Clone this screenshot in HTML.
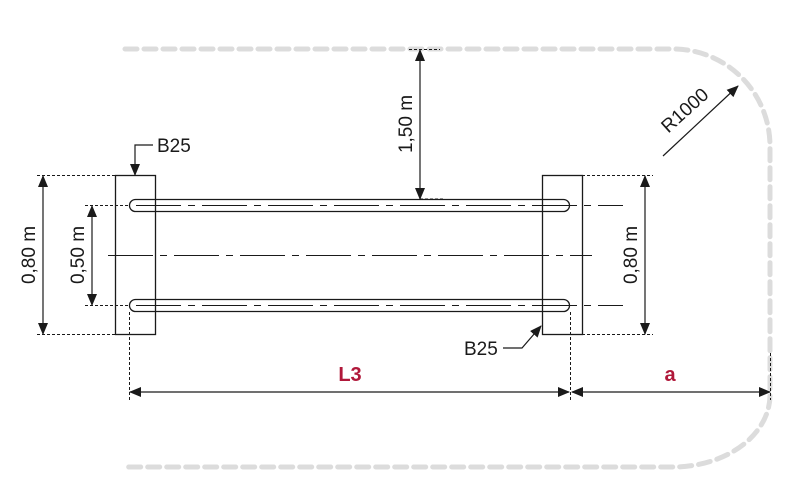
<!DOCTYPE html>
<html><head><meta charset="utf-8"><style>
html,body{margin:0;padding:0;background:#fff}
svg{display:block}
text{font-family:"Liberation Sans",sans-serif}
</style></head><body>
<svg width="800" height="502" viewBox="0 0 800 502" xmlns="http://www.w3.org/2000/svg">
<defs>
<marker id="ar" markerWidth="12" markerHeight="10" refX="11" refY="5" orient="auto-start-reverse" markerUnits="userSpaceOnUse">
<path d="M0,0 L12,5 L0,10 z" fill="#1a1a1a"/></marker>
</defs>
<path d="M125,49 H673 A97,97 0 0 1 770,146 V395 A97,72 0 0 1 673,467 H125" fill="none" stroke="#dcdcdc" stroke-width="5" stroke-dasharray="12,7" stroke-linecap="round"/>
<g stroke="#1a1a1a" fill="none" stroke-width="1.3">
<rect x="115.5" y="175.5" width="40" height="159"/>
<rect x="542.5" y="175.5" width="40" height="159"/>
<rect x="129.5" y="199.5" width="440" height="12" rx="6"/>
<rect x="129.5" y="299.5" width="440" height="12" rx="6"/>
</g>
<g stroke="#1a1a1a" stroke-width="1" fill="none" stroke-dasharray="45,7,7,7">
<line x1="136" y1="205.5" x2="623" y2="205.5"/>
<line x1="136" y1="305.5" x2="623" y2="305.5"/>
<line x1="108" y1="255.5" x2="592" y2="255.5"/>
</g>
<g stroke="#1a1a1a" stroke-width="1" fill="none" stroke-dasharray="3,2">
<line x1="37" y1="175.5" x2="115" y2="175.5"/>
<line x1="37" y1="334.5" x2="115" y2="334.5"/>
<line x1="85" y1="205.5" x2="129" y2="205.5"/>
<line x1="85" y1="305.5" x2="129" y2="305.5"/>
<line x1="582" y1="175.5" x2="653" y2="175.5"/>
<line x1="582" y1="334.5" x2="653" y2="334.5"/>
<line x1="409" y1="49.5" x2="440" y2="49.5"/>
<line x1="420" y1="199" x2="445" y2="199"/>
<line x1="129.5" y1="312" x2="129.5" y2="400"/>
<line x1="570.5" y1="312" x2="570.5" y2="400"/>
<line x1="770.5" y1="353" x2="770.5" y2="400"/>
</g>
<g stroke="#1a1a1a" stroke-width="1.2" fill="none">
<line x1="43" y1="176" x2="43" y2="334" marker-start="url(#ar)" marker-end="url(#ar)"/>
<line x1="92" y1="206" x2="92" y2="305" marker-start="url(#ar)" marker-end="url(#ar)"/>
<line x1="645" y1="176" x2="645" y2="334" marker-start="url(#ar)" marker-end="url(#ar)"/>
<line x1="420" y1="50" x2="420" y2="199" marker-start="url(#ar)" marker-end="url(#ar)"/>
<line x1="130" y1="392" x2="569" y2="392" marker-start="url(#ar)" marker-end="url(#ar)"/>
<line x1="572" y1="392" x2="770" y2="392" marker-start="url(#ar)" marker-end="url(#ar)"/>
<line x1="663" y1="156" x2="738" y2="86" marker-end="url(#ar)"/>
<polyline points="153,145 135,145 135,175" marker-end="url(#ar)"/>
<polyline points="503,348 522,348 541,326" marker-end="url(#ar)"/>
</g>
<g fill="#1a1a1a" font-size="19">
<text x="157" y="152">B25</text>
<text x="464" y="355">B25</text>
<text transform="translate(35,255) rotate(-90)" text-anchor="middle">0,80 m</text>
<text transform="translate(84,255) rotate(-90)" text-anchor="middle">0,50 m</text>
<text transform="translate(637,255) rotate(-90)" text-anchor="middle">0,80 m</text>
<text transform="translate(412,124) rotate(-90)" text-anchor="middle">1,50 m</text>
<text transform="translate(689,115) rotate(-42)" text-anchor="middle">R1000</text>
</g>
<g fill="#b0183a" font-size="20" font-weight="bold" text-anchor="middle">
<text x="350" y="381">L3</text>
<text x="670" y="381">a</text>
</g>
</svg>
</body></html>
